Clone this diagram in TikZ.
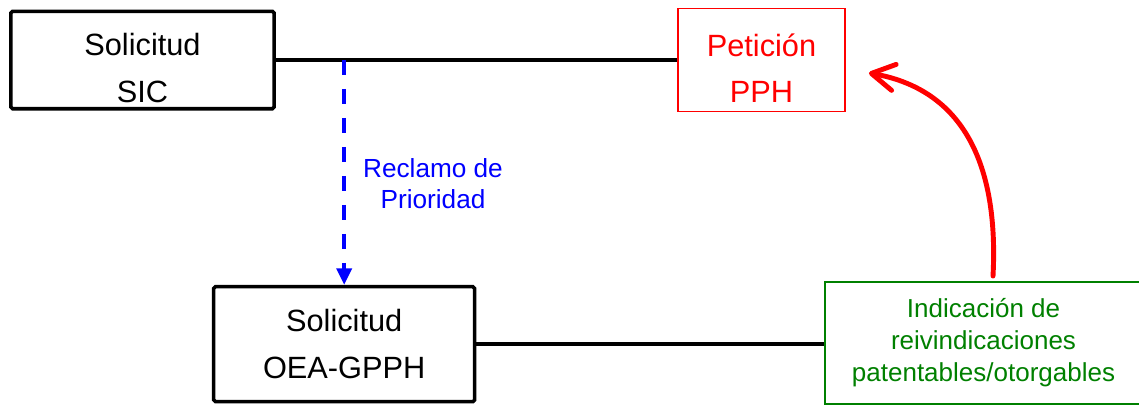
\documentclass[tikz,border=0pt]{standalone}
\usepackage{fontspec}
\setmainfont{Liberation Sans}
\usetikzlibrary{arrows.meta}

\definecolor{okgreen}{RGB}{0,128,0}
\newcommand{\alto}{\rule{0pt}{22pt}}

\begin{document}
\begin{tikzpicture}[x=0.02cm,y=-0.02cm,
    solbox/.style={draw,line width=2pt,rounded corners=1pt,align=center,font=\fontsize{17.5}{26.5}\selectfont},
    pphbox/.style={draw=red,text=red,line width=1.1pt,align=center,font=\fontsize{17.5}{26.5}\selectfont},
    indbox/.style={draw=okgreen,text=okgreen,line width=1.4pt,align=center,font=\fontsize{14.8}{18.2}\selectfont},
    link/.style={line width=2pt},
    claim/.style={blue,line width=2.4pt,dash pattern=on 8.5pt off 8pt,-{Triangle[length=9.5pt,width=8.5pt]}},
    back/.style={red,line width=2.8pt,line cap=round,-{Straight Barb[length=13pt,width=15pt,round]}}]

    \useasboundingbox (0,0) rectangle (1139,406);
    \clip (0,0) rectangle (1139,406);

    \node[solbox,minimum width=5.27cm,minimum height=1.95cm] (sic) at (142.5,60) {\alto Solicitud\\SIC};
    \node[pphbox,minimum width=3.34cm,minimum height=2.06cm] (pph) at (761.5,60) {\alto Petición\\PPH};
    \node[solbox,minimum width=5.22cm,minimum height=2.3cm] (oea) at (344.2,344.2) {Solicitud\\OEA-GPPH};
    \node[indbox,minimum width=6.34cm,minimum height=2.43cm] (ind) at (983.5,343) {Indicación de\\reivindicaciones\\patentables/otorgables};

    \node[blue,align=center,font=\fontsize{14.9}{17.6}\selectfont] (rec) at (433,184) {Reclamo de\\Prioridad};

    \draw[link] (sic.east) -- (sic.east -| pph.west);
    \draw[link] (oea.east) -- (oea.east -| ind.west);

    \coordinate (split) at (oea.north |- sic.east);
    \draw[claim] (split) -- (oea.north);

    \draw[back] ([shift={(9.5,-5)}]ind.north) to[out=87,in=-10,looseness=1.1] ([shift={(23,13)}]pph.east);

\end{tikzpicture}
\end{document}
